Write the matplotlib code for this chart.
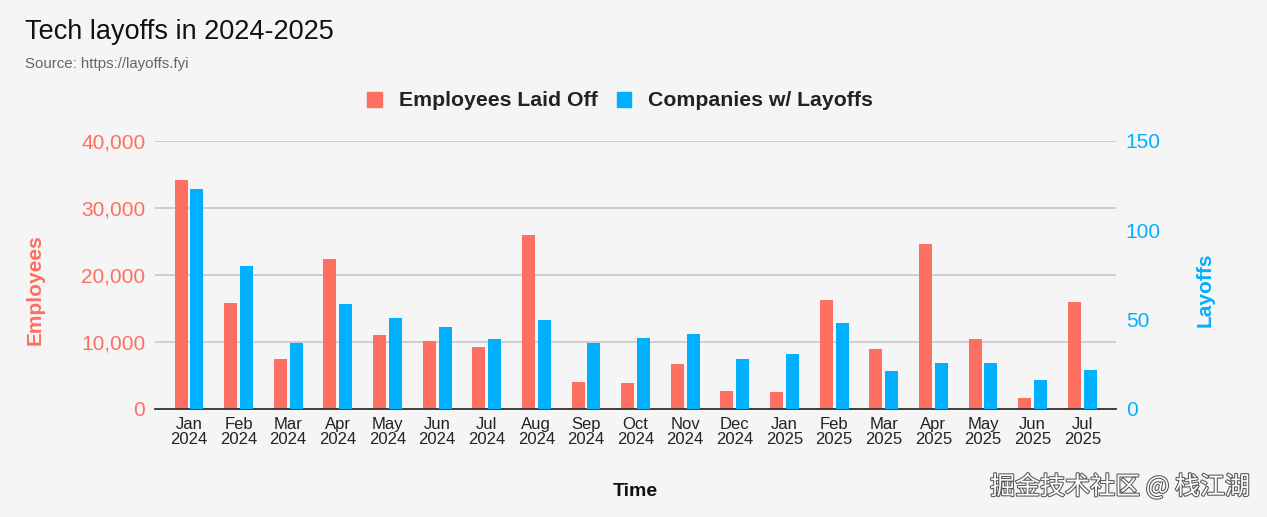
import matplotlib.pyplot as plt
import matplotlib.patheffects as pe
from matplotlib.patches import Patch
import numpy as np

plt.rcParams['font.family'] = ['Liberation Sans', 'DejaVu Sans']

# datos
meses = ['Jan\n2024', 'Feb\n2024', 'Mar\n2024', 'Apr\n2024', 'May\n2024', 'Jun\n2024',
         'Jul\n2024', 'Aug\n2024', 'Sep\n2024', 'Oct\n2024', 'Nov\n2024', 'Dec\n2024',
         'Jan\n2025', 'Feb\n2025', 'Mar\n2025', 'Apr\n2025', 'May\n2025', 'Jun\n2025',
         'Jul\n2025']
empleados = [34200, 15800, 7500, 22400, 11000, 10100, 9200, 25900, 4100, 3900,
             6700, 2700, 2500, 16200, 8900, 24700, 10400, 1700, 16000]
empresas = [123, 80, 37, 59, 51, 46, 39, 50, 37, 40, 42, 28, 31, 48, 21, 26, 26, 16, 22]

rojo = '#ff6f61'
azul = '#00b0ff'
fondo = '#f5f5f5'

fig = plt.figure(figsize=(12.67, 5.17), dpi=100, facecolor=fondo)
ax = fig.add_axes([155 / 1267, 1 - 409 / 517, (1116 - 155) / 1267, (409 - 141) / 517])
ax.set_facecolor(fondo)
ax2 = ax.twinx()

x = np.arange(len(meses))
ancho = 0.26
ax.bar(x - 0.16, empleados, width=ancho, color=rojo, zorder=3)
ax2.bar(x + 0.16, empresas, width=ancho, color=azul, zorder=3)

ax.set_xlim(-0.685, 18.68)
ax.set_ylim(0, 40000)
ax2.set_ylim(0, 150)
ax.set_yticks([0, 10000, 20000, 30000, 40000])
ax.set_yticklabels(['0', '10,000', '20,000', '30,000', '40,000'])
ax2.set_yticks([0, 50, 100, 150])

ax.grid(axis='y', color='#c8c8c8', linewidth=1.2, zorder=0)
for a in (ax, ax2):
    for s in a.spines.values():
        s.set_visible(False)
ax.spines['bottom'].set_visible(True)
ax.spines['bottom'].set_color('#333333')
ax.spines['bottom'].set_linewidth(1.3)
ax.spines['bottom'].set_zorder(5)

ax.tick_params(axis='y', length=0, pad=7, labelsize=15, labelcolor=rojo)
ax2.tick_params(axis='y', length=0, pad=7, labelsize=15, labelcolor=azul)
ax.set_xticks(x)
ax.set_xticklabels(meses, fontsize=12, color='#222222', linespacing=1.0)
ax.tick_params(axis='x', length=0, pad=6)

# textos
fig.text(25 / 1267, 1 - 32 / 517, 'Tech layoffs in 2024-2025', fontsize=19.5, va='center', color='#111111')
fig.text(25 / 1267, 1 - 64 / 517, 'Source: https://layoffs.fyi', fontsize=10.8, va='center', color='#666666')
fig.text(35 / 1267, 1 - 290 / 517, 'Employees', rotation=90, fontsize=15, fontweight='bold',
         color=rojo, ha='center', va='center')
fig.text(1205 / 1267, 1 - 290 / 517, 'Layoffs', rotation=90, fontsize=15, fontweight='bold',
         color=azul, ha='center', va='center')
fig.text(635 / 1267, 1 - 492 / 517, 'Time', fontsize=14, fontweight='bold', ha='center',
         va='center', color='#111111')

handles = [Patch(color=rojo, label='Employees Laid Off'), Patch(color=azul, label='Companies w/ Layoffs')]
leg = fig.legend(handles=handles, loc='center', bbox_to_anchor=(620 / 1267, 1 - 101 / 517), ncol=2,
                 frameon=False, handlelength=0.7, handleheight=0.7, handletextpad=0.8,
                 columnspacing=0.9, prop={'size': 15.3, 'weight': 'bold'})
for t in leg.get_texts():
    t.set_color('#222222')

fig.text(1250 / 1267, 1 - 487 / 517, '掘金技术社区 @ 栈江湖', fontsize=18, ha='right', va='center',
         color='white', family=['Noto Sans CJK SC', 'DejaVu Sans'],
         path_effects=[pe.withStroke(linewidth=1.5, foreground='#555555')])

fig.savefig('out.png', dpi=100, facecolor=fondo)
